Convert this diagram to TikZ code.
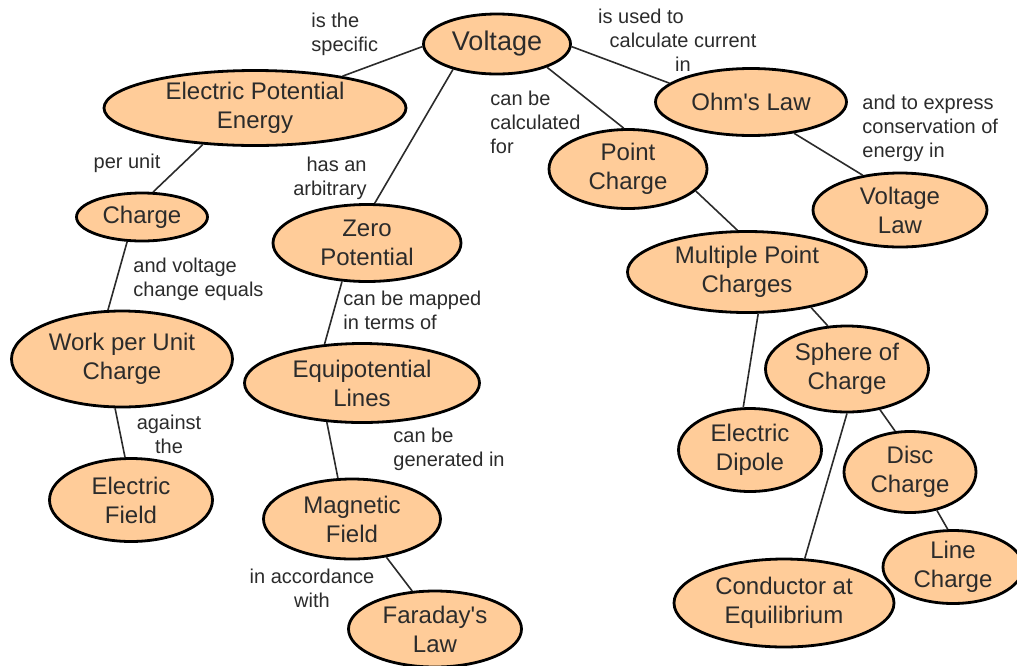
\documentclass[tikz,border=0pt]{standalone}
\usepackage{fontspec}
\setmainfont{Liberation Sans}
\usetikzlibrary{shapes.geometric}
\definecolor{conceptfill}{HTML}{FFCC99}
\definecolor{inkgray}{HTML}{2B2B2B}
\begin{document}
\begin{tikzpicture}[x=0.5pt,y=-0.5pt,
            concept/.style={ellipse,draw=black,line width=1.4pt,fill=conceptfill,
                inner sep=0pt,align=center,text=inkgray,
                font=\fontsize{12}{14.5}\selectfont},
            esize/.style 2 args={minimum width=#1,minimum height=#2},
            link/.style={inner sep=0pt,text=inkgray,font=\fontsize{10}{12}\selectfont},
            conn/.style={draw=inkgray,line width=0.8pt}]
        \useasboundingbox (0,0) rectangle (1017,665);
                % Define concepts
        \node[concept,esize={73.5pt}{30pt},font=\fontsize{13.5}{15}\selectfont] (volt) at (497,44) {\raisebox{-1pt}{Voltage}};
        \node[concept,esize={151pt}{37.5pt}] (epe) at (255,108) {Electric Potential\\Energy};
        \node[concept,esize={95.5pt}{33.5pt}] (ohm) at (751,102) {Ohm\textquotesingle s Law};
        \node[concept,esize={79pt}{39.5pt}] (point) at (628,169) {Point\\Charge};
        \node[concept,esize={87pt}{37pt}] (vlaw) at (900,210) {Voltage\\Law};
        \node[concept,esize={65.5pt}{24pt}] (charge) at (142,217) {Charge};
        \node[concept,esize={94pt}{38.5pt}] (zero) at (367,243) {Zero\\Potential};
        \node[concept,esize={119.5pt}{40.5pt}] (multi) at (747,272) {Multiple Point\\Charges};
        \node[concept,esize={110.5pt}{48pt}] (work) at (122,359) {Work per Unit\\Charge};
        \node[concept,esize={117.5pt}{39.5pt}] (equi) at (362,383) {Equipotential\\Lines};
        \node[concept,esize={81.5pt}{43pt}] (sphere) at (847,369) {Sphere of\\Charge};
        \node[concept,esize={71.5pt}{41.5pt}] (dipole) at (750,450) {Electric\\Dipole};
        \node[concept,esize={66pt}{40.5pt}] (disc) at (910,472) {Disc\\Charge};
        \node[concept,esize={81.5pt}{41.5pt}] (field) at (131,500) {Electric\\Field};
        \node[concept,esize={88.5pt}{40pt}] (mag) at (352,519) {Magnetic\\Field};
        \node[concept,esize={70pt}{36.5pt}] (line) at (953,567) {Line\\Charge};
        \node[concept,esize={110pt}{44pt}] (cond) at (784,603) {Conductor at\\Equilibrium};
        \node[concept,esize={86.5pt}{38pt}] (faraday) at (435,629) {Faraday\textquotesingle s\\Law};
                % Linking phrases
        \node[link,anchor=west,align=left] (l1) at (311,34) {is the\\specific};
        \node[link,align=center] (l2) at (683,40) {is used to\hspace*{42pt}\\calculate current\\in};
        \node[link,anchor=west,align=left] (l3) at (862,128) {and to express\\conservation of\\energy in};
        \node[link,anchor=west,align=left] (l4) at (490,122) {can be\\calculated\\for};
        \node[link] (l5) at (127,163) {per unit};
        \node[link,anchor=east,align=right] (l6) at (367,178) {has an\\arbitrary};
        \node[link,anchor=west,align=left] (l7) at (133,279) {and voltage\\change equals};
        \node[link,anchor=west,align=left] (l8) at (343,310) {can be mapped\\in terms of};
        \node[link,align=center] (l9) at (169,434) {against\\the};
        \node[link,anchor=west,align=left] (l10) at (393,449) {can be\\generated in};
        \node[link,align=center] (l11) at (312,588) {in accordance\\with};
                % Connections
        \draw[conn] (volt.182) -- (epe.20);
        \draw[conn] (volt.210) -- (zero.79);
        \draw[conn] (volt.-25) -- (point.96);
        \draw[conn] (volt.-2) -- (ohm.167);
        \draw[conn] (ohm.-36) -- (vlaw.137);
        \draw[conn] (point.-18) -- (multi.103);
        \draw[conn] (epe.215) -- (charge.66);
        \draw[conn] (charge.239) -- (work.106);
        \draw[conn] (work.262) -- (field.98);
        \draw[conn] (zero.237) -- (equi.134);
        \draw[conn] (equi.228) -- (mag.109);
        \draw[conn] (mag.-48) -- (faraday.121);
        \draw[conn] (multi.-75) -- (dipole.99);
        \draw[conn] (multi.-29) -- (sphere.114);
        \draw[conn] (sphere.-90) -- (cond.65);
        \draw[conn] (sphere.-51) -- (disc.110);
        \draw[conn] (disc.-55) -- (line.98);
\end{tikzpicture}
\end{document}
